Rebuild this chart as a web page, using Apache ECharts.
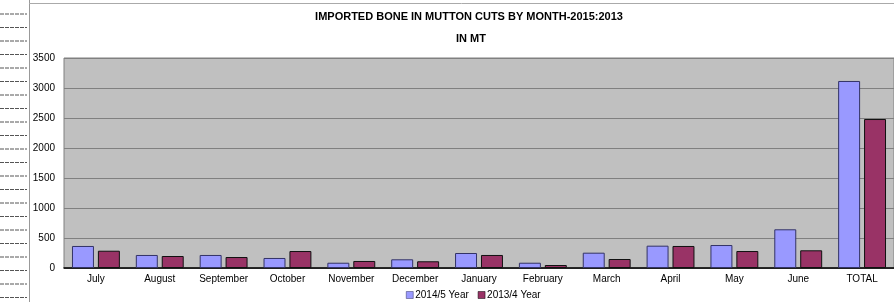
<!DOCTYPE html>
<html>
<head>
<meta charset="UTF-8"/>
<script src="https://cdn.jsdelivr.net/npm/echarts@6/dist/echarts.min.js"></script>
<style>
  html, body { margin: 0; padding: 0; background: #fff; }
  #c { width: 894px; height: 302px; }
</style>
</head>
<body>
<div id="c"></div>
<script>
// months of the season, then the total column
const categories = ["July", "August", "September", "October", "November", "December",
  "January", "February", "March", "April", "May", "June", "TOTAL"];
const yTicks = [0, 500, 1000, 1500, 2000, 2500, 3000, 3500];
const year2014_5 = [367, 217, 217, 167, 88, 145, 250, 88, 255, 372, 383, 645, 3117];
const year2013_4 = [288, 200, 183, 283, 117, 112, 217, 50, 150, 367, 283, 295, 2483];

const chart = echarts.init(document.getElementById("c"), null, { renderer: "canvas" });

// ruler marks on the far left (sheet decoration)
const ruler = [];
for (let y = 14; y < 302; y += 13.5) {
  ruler.push({ type: "line", shape: { x1: 0, y1: y, x2: 27, y2: y },
    style: { stroke: "#555", lineWidth: 1, lineDash: [4, 1] } });
}

chart.setOption({
  animation: false,
  backgroundColor: "#fff",
  textStyle: { fontFamily: "Liberation Sans, Arial, sans-serif" },
  title: [
    { text: "IMPORTED BONE IN MUTTON CUTS BY MONTH-2015:2013", left: 464, top: 6, textAlign: "center",
      textStyle: { fontSize: 11, fontWeight: "bold", color: "#000" } },
    { text: "IN MT", left: 466, top: 28, textAlign: "center",
      textStyle: { fontSize: 11, fontWeight: "bold", color: "#000" } }
  ],
  legend: {
    top: 285, left: 401, itemWidth: 7, itemHeight: 7, itemGap: 9,
    icon: "rect",
    textStyle: { fontSize: 10, color: "#000", padding: [0, 0, 0, -3] },
    data: [
      { name: "2014/5 Year", itemStyle: { borderColor: "#333366", borderWidth: 0.5 } },
      { name: "2013/4 Year", itemStyle: { borderColor: "#000", borderWidth: 0.5 } }
    ]
  },
  graphic: [
    { type: "line", shape: { x1: 29.5, y1: 0, x2: 29.5, y2: 302 }, style: { stroke: "#999", lineWidth: 1 } },
    { type: "line", shape: { x1: 29, y1: 3.5, x2: 894, y2: 3.5 }, style: { stroke: "#aaa", lineWidth: 1 } }
  ].concat(ruler),
  grid: { left: 64, right: 0, top: 58, bottom: 34, show: true, backgroundColor: "#c0c0c0", borderColor: "#808080", borderWidth: 1 },
  xAxis: {
    type: "category", data: categories,
    axisLine: { lineStyle: { color: "#000", width: 1.5 } },
    axisTick: { show: false },
    axisLabel: { fontSize: 10, color: "#000", margin: 6 }
  },
  yAxis: {
    type: "value", min: yTicks[0], max: yTicks[yTicks.length - 1], interval: 500,
    axisLine: { show: false }, axisTick: { show: false },
    axisLabel: { fontSize: 10, color: "#000", margin: 9, formatter: (v) => String(v) },
    splitLine: { lineStyle: { color: "#808080", width: 1 } }
  },
  series: [
    { name: "2014/5 Year", type: "bar", data: year2014_5, barGap: "18%", barCategoryGap: "25%",
      itemStyle: { color: "#9999ff", borderColor: "#333366", borderWidth: 1 } },
    { name: "2013/4 Year", type: "bar", data: year2013_4,
      itemStyle: { color: "#993366", borderColor: "#111", borderWidth: 1 } }
  ]
});
</script>
</body>
</html>
